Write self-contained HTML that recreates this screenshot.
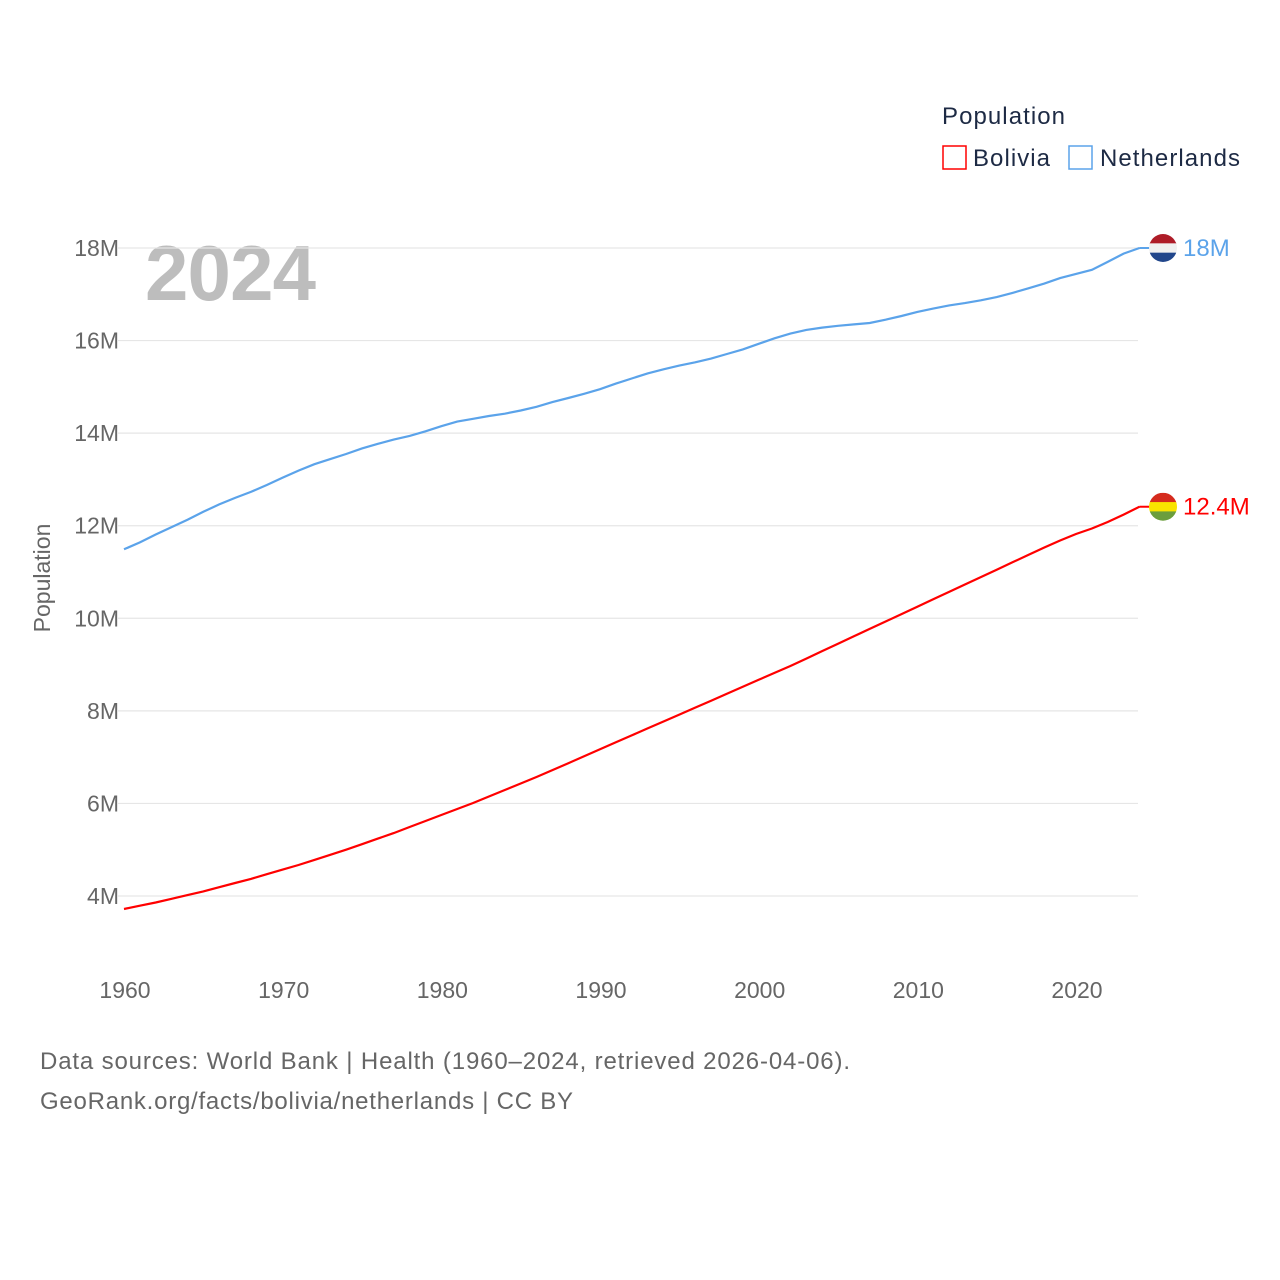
<!DOCTYPE html>
<html><head><meta charset="utf-8"><style>
body{margin:0;background:#fff;font-family:"Liberation Sans",sans-serif}
svg{display:block}
</style></head><body>
<svg id="chart" width="1280" height="1280" font-family="Liberation Sans, sans-serif">
<text x="942" y="124" font-size="24" fill="#1d2a44" textLength="123">Population</text>
<g><rect x="943" y="146" width="23" height="23" fill="none" stroke="#ff0000" stroke-width="1.5"/><text x="973" y="166" font-size="24" fill="#1d2a44" textLength="77">Bolivia</text></g>
<g><rect x="1069" y="146" width="23" height="23" fill="none" stroke="#5ba3ea" stroke-width="1.5"/><text x="1100" y="166" font-size="24" fill="#1d2a44" textLength="140">Netherlands</text></g>
<text x="145" y="300" font-size="78" font-weight="bold" fill="#bdbdbd" textLength="171">2024</text>
<text transform="translate(50,578) rotate(-90)" text-anchor="middle" font-size="23" fill="#666">Population</text>
<g id="grid"></g><g id="lines"></g><g id="ends"></g>
<text x="40" y="1069" font-size="24" fill="#666" textLength="810">Data sources: World Bank | Health (1960–2024, retrieved 2026-04-06).</text>
<text x="40" y="1109" font-size="24" fill="#666" textLength="533">GeoRank.org/facts/bolivia/netherlands | CC BY</text>
</svg>
<script>
const years=[];for(let y=1960;y<=2024;y++)years.push(y);
const bolivia=[3.72,3.79,3.86,3.94,4.02,4.10,4.19,4.28,4.37,4.47,4.57,4.67,4.78,4.89,5.00,5.12,5.24,5.36,5.49,5.62,5.75,5.88,6.01,6.15,6.29,6.43,6.57,6.72,6.87,7.02,7.17,7.32,7.47,7.62,7.77,7.92,8.07,8.22,8.37,8.52,8.67,8.82,8.97,9.13,9.29,9.45,9.61,9.77,9.93,10.09,10.25,10.41,10.57,10.73,10.89,11.05,11.21,11.37,11.53,11.68,11.82,11.94,12.08,12.24,12.41];
const netherlands=[11.49,11.64,11.81,11.97,12.13,12.30,12.46,12.60,12.73,12.88,13.04,13.19,13.33,13.44,13.55,13.67,13.77,13.86,13.94,14.04,14.15,14.25,14.31,14.37,14.42,14.49,14.57,14.67,14.76,14.85,14.95,15.07,15.18,15.29,15.38,15.46,15.53,15.61,15.71,15.81,15.93,16.05,16.15,16.23,16.28,16.32,16.35,16.38,16.45,16.53,16.62,16.69,16.76,16.81,16.87,16.94,17.03,17.13,17.23,17.35,17.44,17.53,17.70,17.88,18.00];
const yTicks=[4,6,8,10,12,14,16,18];
const yTickLabels=["4M","6M","8M","10M","12M","14M","16M","18M"];
const xTicks=[1960,1970,1980,1990,2000,2010,2020];
const endLabels=["12.4M","18M"];
const X=y=>124+(y-1960)*(1076-124)/60;
const Y=v=>896-(v-4)*(896-248)/14;
const NS="http://www.w3.org/2000/svg";
function mk(t,a,p){const e=document.createElementNS(NS,t);for(const k in a)e.setAttribute(k,a[k]);p.appendChild(e);return e;}
const grid=document.getElementById('grid'),lines=document.getElementById('lines'),ends=document.getElementById('ends');
yTicks.forEach((v,i)=>{
 const l=mk('line',{x1:118,x2:1138,y1:Y(v),y2:Y(v),stroke:'#e6e6e6','stroke-width':1.2},grid);
 
 
 const t=mk('text',{x:119,y:Y(v)+8,'text-anchor':'end','font-size':23,fill:'#666'},grid);
 t.textContent=yTickLabels[i];
 
 
});
xTicks.forEach(y=>{
 const t=mk('text',{x:X(y)+1,y:998,'text-anchor':'middle','font-size':23,fill:'#666'},grid);
 t.textContent=String(y);
 
 
});
const series=[[bolivia,'#ff0000','bolivia'],[netherlands,'#5ba3ea','netherlands']];
series.forEach(([d,c,n],si)=>{
 const p=mk('path',{d:d.map((v,i)=>(i?'L':'M')+X(years[i]).toFixed(1)+','+Y(v).toFixed(1)).join(''),fill:'none',stroke:c,'stroke-width':2.2},lines);
 
 
 const last=d[d.length-1],yy=Y(last);
 mk('line',{x1:X(years[years.length-1]),x2:1150,y1:yy,y2:yy,stroke:c,'stroke-width':2},ends);
 const g=mk('g',{},ends);
 
 
 const cx=1163,r=14;
 const cols=n==='bolivia'?['#d52b1e','#f9e300','#6b9e3d']:['#ae1c28','#f0f0f0','#21468b'];
 const id='clip'+si;
 const cp=mk('clipPath',{id:id},g);mk('circle',{cx:cx,cy:yy,r:r},cp);
 cols.forEach((col,k)=>mk('rect',{x:cx-r,y:yy-r+k*2*r/3,width:2*r,height:2*r/3+0.5,fill:col,'clip-path':'url(#'+id+')'},g));
 const t=mk('text',{x:1183,y:yy+8,'font-size':24,fill:c},ends);
 t.textContent=endLabels[si];
 
 
});
</script>
</body></html>
